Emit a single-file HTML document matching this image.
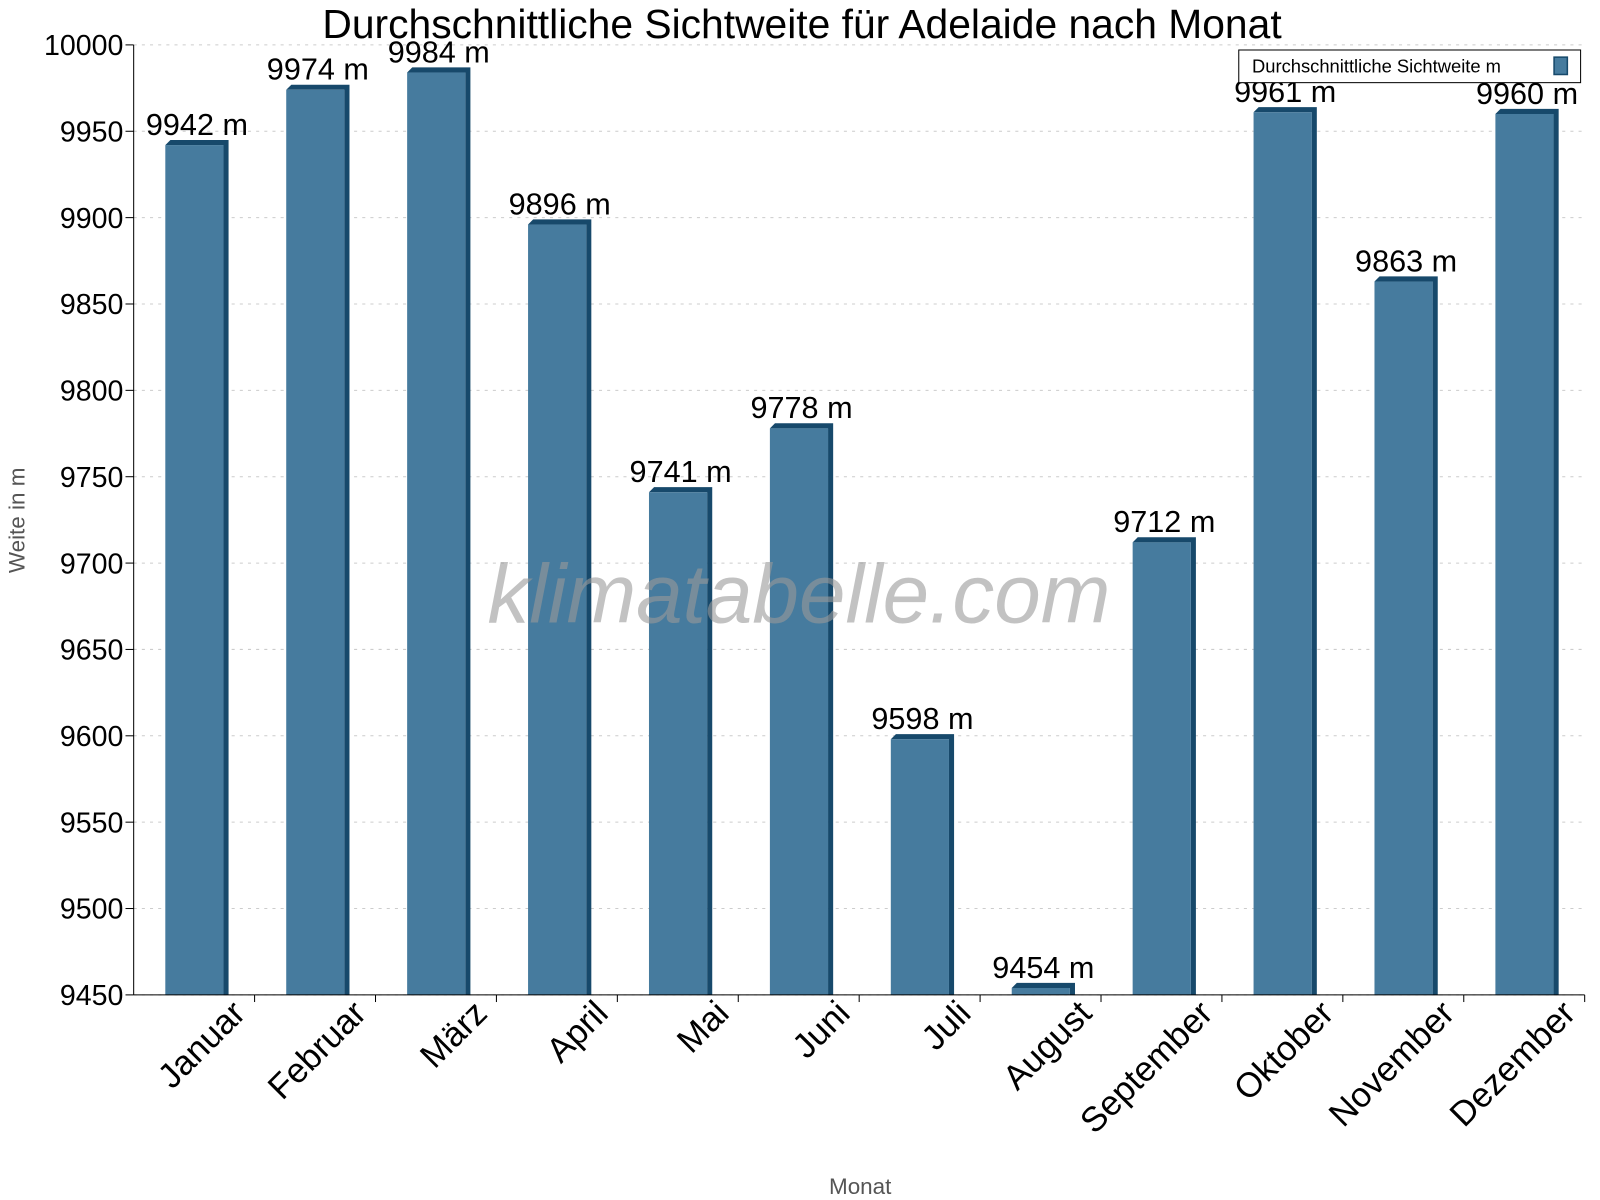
<!DOCTYPE html>
<html><head><meta charset="utf-8"><style>body{margin:0;background:#fff}svg{display:block;font-family:"Liberation Sans",sans-serif}</style></head>
<body>
<svg id="chart" width="1600" height="1200" xmlns="http://www.w3.org/2000/svg">
<g transform="scale(1.0204)">
<text x="786" y="37" font-size="40" text-anchor="middle">Durchschnittliche Sichtweite für Adelaide nach Monat</text>
<g id="grid"></g><g id="bars"></g><g id="axes"></g>
<text x="783" y="610" font-size="82" font-style="italic" fill="#999" fill-opacity="0.6" text-anchor="middle">klimatabelle.com</text>
<text transform="translate(24,510) rotate(-90)" font-size="22" fill="#555" text-anchor="middle">Weite in m</text>
<text x="843" y="1170" font-size="22" fill="#555" text-anchor="middle">Monat</text>
<g>
<rect x="1214" y="49" width="335" height="32" fill="#fff" stroke="#000" stroke-width="1"/>
<text x="1227" y="71" font-size="18">Durchschnittliche Sichtweite m</text>
<rect x="1523" y="56" width="13" height="17" fill="#467b9e" stroke="#17496b" stroke-width="1.5"/>
</g>
</g>
</svg>
<script>
const categories=["Januar","Februar","März","April","Mai","Juni","Juli","August","September","Oktober","November","Dezember"];
const values=[9942,9974,9984,9896,9741,9778,9598,9454,9712,9961,9863,9960];
const yTicks=[9450,9500,9550,9600,9650,9700,9750,9800,9850,9900,9950,10000];
const NS="http://www.w3.org/2000/svg";
const X0=131,X1=1553,Y0=975,Y1=44,YMIN=9450,YMAX=10000;
const bw=(X1-X0)/categories.length;
const y=v=>Y0-(v-YMIN)/(YMAX-YMIN)*(Y0-Y1);
const xb=i=>X0+i*bw;
function mk(tag,attrs,parent){const e=document.createElementNS(NS,tag);for(const k in attrs)e.setAttribute(k,attrs[k]);parent.appendChild(e);return e;}
const grid=document.getElementById('grid'),bars=document.getElementById('bars'),axes=document.getElementById('axes');
yTicks.forEach(t=>{
  const g=mk('line',{x1:X0,x2:X1,y1:y(t),y2:y(t),stroke:'#ccc','stroke-dasharray':'3,5'},grid);
  
  
  mk('line',{x1:X0-8,x2:X0,y1:y(t),y2:y(t),stroke:'#000'},axes);
  const l=mk('text',{x:X0-10,y:y(t)+10,'font-size':28,'text-anchor':'end'},axes);
  l.textContent=t;
  
  
});
values.forEach((v,i)=>{
  const g=mk('g',{},bars);
  
  
  const bx=xb(i)+31,w=57,d=5,top=y(v);
  mk('polygon',{points:`${bx},${top} ${bx+d},${top-d} ${bx+w+d},${top-d} ${bx+w+d},${Y0} ${bx+w},${Y0} ${bx+w},${top}`,fill:'#17496b'},g);
  mk('rect',{x:bx,y:top,width:w,height:Y0-top,fill:'#467b9e'},g);
  const t=mk('text',{x:bx+(w+d)/2,y:top-10,'font-size':30,'text-anchor':'middle'},g);
  t.textContent=v+' m';
  
  
  mk('line',{x1:xb(i+1),x2:xb(i+1),y1:Y0,y2:Y0+7,stroke:'#000'},axes);
  const cx=xb(i)+bw/2+52,cy=Y0+20;
  const xl=mk('text',{x:cx,y:cy,'font-size':34,'text-anchor':'end',transform:`rotate(-45 ${cx} ${cy})`},axes);
  xl.textContent=categories[i];
  
  
});
mk('line',{x1:X0,x2:X0,y1:Y1,y2:Y0,stroke:'#000'},axes);
mk('line',{x1:X0,x2:X1,y1:Y0,y2:Y0,stroke:'#000'},axes);
</script>
</body></html>
